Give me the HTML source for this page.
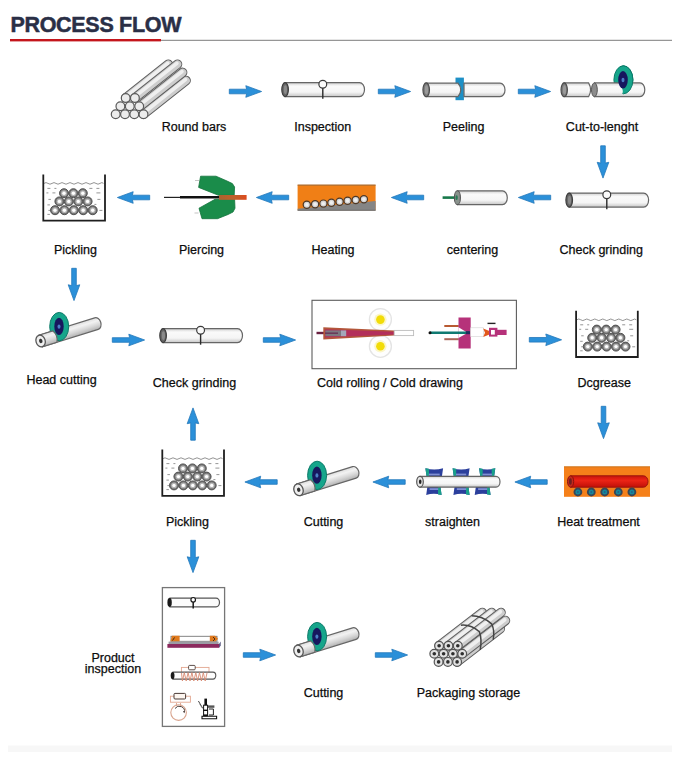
<!DOCTYPE html>
<html>
<head>
<meta charset="utf-8">
<title>Process Flow</title>
<style>
  html, body { margin: 0; padding: 0; background: #ffffff; }
  body { width: 680px; height: 759px; overflow: hidden; font-family: "Liberation Sans", sans-serif; }
  svg { display: block; }
  .lbl { font-family: "Liberation Sans", sans-serif; font-size: 12.5px; fill: #0c0c0c; text-anchor: middle; stroke: #0c0c0c; stroke-width: 0.25px; }
  .title { font-family: "Liberation Sans", sans-serif; font-size: 21.5px; font-weight: bold; fill: #2a2f46; stroke: #2a2f46; stroke-width: 0.5px; letter-spacing: -0.3px; }
</style>
</head>
<body>
<svg width="680" height="759" viewBox="0 0 680 759">
  <defs>
    <!-- tube body gradient -->
    <linearGradient id="gT" x1="0" y1="0" x2="0" y2="1">
      <stop offset="0" stop-color="#cfcfcf"/>
      <stop offset="0.25" stop-color="#fafafa"/>
      <stop offset="0.68" stop-color="#f5f5f5"/>
      <stop offset="1" stop-color="#c6c6c6"/>
    </linearGradient>
    <linearGradient id="gC" x1="0" y1="0" x2="0" y2="1">
      <stop offset="0" stop-color="#dedede"/>
      <stop offset="0.3" stop-color="#f2f2f2"/>
      <stop offset="0.65" stop-color="#d6d6d6"/>
      <stop offset="1" stop-color="#b2b2b2"/>
    </linearGradient>
    <linearGradient id="gRed" x1="0" y1="0" x2="0" y2="1">
      <stop offset="0" stop-color="#c8140c"/>
      <stop offset="0.4" stop-color="#ec2416"/>
      <stop offset="1" stop-color="#c01008"/>
    </linearGradient>
    <linearGradient id="gBrown" x1="0" y1="0" x2="1" y2="0">
      <stop offset="0" stop-color="#a8632e"/>
      <stop offset="0.55" stop-color="#c0602a"/>
      <stop offset="1" stop-color="#de4a1e"/>
    </linearGradient>

    <!-- blue arrow pointing right, origin = tail centre, length 33 -->
    <path id="arr" d="M0.3,-2.3 L17.6,-2.3 L16.8,-5.8 L32.6,0 L16.8,5.8 L17.6,2.3 L0.3,2.3 Z" fill="#2b90d9" stroke="#2277ba" stroke-width="0.8" stroke-linejoin="round"/>

    <!-- horizontal tube, origin = left end / centre line, length 83, height 14 -->
    <g id="tube">
      <path d="M3.5,-7 H78 A5,7 0 0 1 78,7 H3.5 Z" fill="url(#gT)" stroke="#666" stroke-width="1.2"/>
      <ellipse cx="3.6" cy="0" rx="3.3" ry="7" fill="#666666" stroke="#3e3e3e" stroke-width="1.2"/>
      <ellipse cx="3.9" cy="0" rx="1.6" ry="4.4" fill="#8a8a8a"/>
    </g>
    <!-- inspection probe: circle + stem, origin = circle centre -->
    <g id="probe">
      <line x1="0" y1="3.5" x2="0" y2="14.5" stroke="#2a2a2a" stroke-width="1.4"/>
      <circle cx="0" cy="0" r="3.9" fill="#fafafa" stroke="#3a3a3a" stroke-width="1.2"/>
    </g>

    <!-- tank with bars, origin = top-left -->
    <g id="tank">
      <path d="M1.6,9 q2,-1.6 4,0 t4,0 t4,0 t4,0 t4,0 t4,0 t4,0 t4,0 t4,0 t4,0 t4,0 t4,0 t4,0 t4,0 t3.5,0" fill="none" stroke="#777" stroke-width="0.8"/>
      <g stroke="#8a8a8a" stroke-width="0.9">
        <path d="M5,14h3 M12,14h2 M4,18.5h2 M10,18.5h3 M6,25h2.5 M5,30.5h2.5 M6,36h2 M5,40h2.5 M47,14h3 M54,14h3 M54,18.5h4 M55,25h3 M57,36h3 M52,30h2"/>
      </g>
      <g id="ring">
      </g>
      <g fill="#757575" stroke="#484848" stroke-width="0.9"><circle cx="21.6" cy="18.8" r="4.5"/><circle cx="31" cy="18.8" r="4.5"/><circle cx="40.4" cy="18.8" r="4.5"/><circle cx="17" cy="27" r="4.5"/><circle cx="26.4" cy="27" r="4.5"/><circle cx="35.9" cy="27" r="4.5"/><circle cx="45.2" cy="27" r="4.5"/><circle cx="12.6" cy="35.8" r="4.5"/><circle cx="22" cy="35.8" r="4.5"/><circle cx="31.4" cy="35.8" r="4.5"/><circle cx="40.8" cy="35.8" r="4.5"/><circle cx="50.3" cy="35.8" r="4.5"/></g>
      <g fill="#b4b4b4"><circle cx="21.6" cy="18.8" r="2.9"/><circle cx="31" cy="18.8" r="2.9"/><circle cx="40.4" cy="18.8" r="2.9"/><circle cx="17" cy="27" r="2.9"/><circle cx="26.4" cy="27" r="2.9"/><circle cx="35.9" cy="27" r="2.9"/><circle cx="45.2" cy="27" r="2.9"/><circle cx="12.6" cy="35.8" r="2.9"/><circle cx="22" cy="35.8" r="2.9"/><circle cx="31.4" cy="35.8" r="2.9"/><circle cx="40.8" cy="35.8" r="2.9"/><circle cx="50.3" cy="35.8" r="2.9"/></g>
      <g fill="#ffffff"><circle cx="21.6" cy="18.8" r="1.7"/><circle cx="31" cy="18.8" r="1.7"/><circle cx="40.4" cy="18.8" r="1.7"/><circle cx="17" cy="27" r="1.7"/><circle cx="26.4" cy="27" r="1.7"/><circle cx="35.9" cy="27" r="1.7"/><circle cx="45.2" cy="27" r="1.7"/><circle cx="12.6" cy="35.8" r="1.7"/><circle cx="22" cy="35.8" r="1.7"/><circle cx="31.4" cy="35.8" r="1.7"/><circle cx="40.8" cy="35.8" r="1.7"/><circle cx="50.3" cy="35.8" r="1.7"/></g>
      <path d="M0.9,0 V46.2 H62.6 V0" fill="none" stroke="#1e1e1e" stroke-width="1.8" stroke-linejoin="miter"/>
    </g>

    <!-- angled tube with cutting disc, origin = near-end centre -->
    <g id="cut">
      <g transform="rotate(-17.3)">
        <path d="M0,-6 H58.5 A4.5,6 0 0 1 58.5,6 H0 Z" fill="url(#gC)" stroke="#666" stroke-width="1.2"/>
      </g>
      <ellipse cx="18.6" cy="-14.4" rx="9.5" ry="14.2" fill="#16a58b" stroke="#0c7a68" stroke-width="1"/>
      <ellipse cx="18.4" cy="-14.6" rx="4.7" ry="8.6" fill="#17175e"/>
      <ellipse cx="18.4" cy="-14.4" rx="1.5" ry="2.2" fill="#4b7fc4"/>
      <g transform="rotate(-17.3)">
        <path d="M0,-6 H14.6 Q18.4,0 15.2,6 H0 Z" fill="url(#gC)" stroke="#666" stroke-width="1.1"/>
        <ellipse cx="0" cy="0" rx="4.6" ry="6" fill="#efefef" stroke="#555" stroke-width="1.3"/>
        <ellipse cx="0.2" cy="0" rx="1.7" ry="2.2" fill="#333"/>
      </g>
    </g>
  </defs>

  <rect x="0" y="0" width="680" height="759" fill="#ffffff"/>
  <rect x="8" y="745.5" width="664" height="6.5" fill="#f7f7f7"/>

  <!-- ===== header ===== -->
  <text class="title" x="10.4" y="31.5">PROCESS FLOW</text>
  <rect x="161" y="39.8" width="511" height="1" fill="#7d7d7d"/>
  <rect x="10" y="39" width="151" height="2.4" fill="#c4161c"/>

  <!-- ===== arrows ===== -->
  <g id="arrows">
    <use href="#arr" transform="translate(229,91.5)"/>
    <use href="#arr" transform="translate(378,91.5)"/>
    <use href="#arr" transform="translate(518,91.5)"/>
    <use href="#arr" transform="translate(603,145.5) rotate(90)"/>

    <use href="#arr" transform="translate(551,197.5) rotate(180)"/>
    <use href="#arr" transform="translate(424,197.5) rotate(180)"/>
    <use href="#arr" transform="translate(289,197.5) rotate(180)"/>
    <use href="#arr" transform="translate(150,197.5) rotate(180)"/>
    <use href="#arr" transform="translate(74,268) rotate(90)"/>

    <use href="#arr" transform="translate(112,340)"/>
    <use href="#arr" transform="translate(263,340)"/>
    <use href="#arr" transform="translate(529,339.8)"/>
    <use href="#arr" transform="translate(603.5,406) rotate(90)"/>
    <use href="#arr" transform="translate(193,440.5) rotate(-90)"/>

    <use href="#arr" transform="translate(547.5,482) rotate(180)"/>
    <use href="#arr" transform="translate(405.5,482) rotate(180)"/>
    <use href="#arr" transform="translate(277.5,482) rotate(180)"/>
    <use href="#arr" transform="translate(193,540) rotate(90)"/>

    <use href="#arr" transform="translate(243,655)"/>
    <use href="#arr" transform="translate(375,655)"/>
  </g>

  <!-- ===== labels ===== -->
  <g id="labels">
    <text class="lbl" x="194" y="131.3">Round bars</text>
    <text class="lbl" x="322.7" y="131.3">Inspection</text>
    <text class="lbl" x="463.5" y="131.3">Peeling</text>
    <text class="lbl" x="602" y="131.3">Cut-to-lenght</text>

    <text class="lbl" x="75.5" y="253.7">Pickling</text>
    <text class="lbl" x="201.5" y="253.7">Piercing</text>
    <text class="lbl" x="333" y="253.7">Heating</text>
    <text class="lbl" x="472.5" y="253.7">centering</text>
    <text class="lbl" x="601.2" y="253.9">Check grinding</text>

    <text class="lbl" x="61.5" y="384">Head cutting</text>
    <text class="lbl" x="194.5" y="387.2">Check grinding</text>
    <text class="lbl" x="390" y="387.2">Cold rolling / Cold drawing</text>
    <text class="lbl" x="604.2" y="387.2">Dcgrease</text>

    <text class="lbl" x="187.5" y="526.3">Pickling</text>
    <text class="lbl" x="323.5" y="526.3">Cutting</text>
    <text class="lbl" x="452.5" y="526.3">straighten</text>
    <text class="lbl" x="598.5" y="526.3">Heat treatment</text>

    <text class="lbl" x="113" y="661.5">Product</text>
    <text class="lbl" x="113" y="673.3">inspection</text>
    <text class="lbl" x="323.5" y="697.3">Cutting</text>
    <text class="lbl" x="468.5" y="697.3">Packaging storage</text>
  </g>

  <!-- ===== ROW 1 ===== -->
  <g id="row1">
    <g id="roundbars">
      <line x1="125.7" y1="98" x2="168.3" y2="64.2" stroke="#5e5e5e" stroke-width="9.6" stroke-linecap="round"/><line x1="125.7" y1="98" x2="168.3" y2="64.2" stroke="#cdcdcd" stroke-width="7.6" stroke-linecap="round"/><line x1="125.10000000000001" y1="97.2" x2="167.7" y2="63.4" stroke="#efefef" stroke-width="3.6" stroke-linecap="round"/>
      <line x1="143.5" y1="114.3" x2="186.1" y2="80.5" stroke="#5e5e5e" stroke-width="9.6" stroke-linecap="round"/><line x1="143.5" y1="114.3" x2="186.1" y2="80.5" stroke="#cdcdcd" stroke-width="7.6" stroke-linecap="round"/><line x1="142.9" y1="113.5" x2="185.5" y2="79.7" stroke="#efefef" stroke-width="3.6" stroke-linecap="round"/>
      <line x1="140" y1="106.2" x2="182.6" y2="72.4" stroke="#5e5e5e" stroke-width="9.6" stroke-linecap="round"/><line x1="140" y1="106.2" x2="182.6" y2="72.4" stroke="#cdcdcd" stroke-width="7.6" stroke-linecap="round"/><line x1="139.4" y1="105.4" x2="182.0" y2="71.6" stroke="#efefef" stroke-width="3.6" stroke-linecap="round"/>
      <line x1="134.9" y1="98" x2="177.5" y2="64.2" stroke="#5e5e5e" stroke-width="9.6" stroke-linecap="round"/><line x1="134.9" y1="98" x2="177.5" y2="64.2" stroke="#cdcdcd" stroke-width="7.6" stroke-linecap="round"/><line x1="134.3" y1="97.2" x2="176.9" y2="63.4" stroke="#efefef" stroke-width="3.6" stroke-linecap="round"/>
      <g fill="#ececec" stroke="#5a5a5a" stroke-width="1.2"><circle cx="125.7" cy="98" r="4.4"/><circle cx="134.9" cy="98" r="4.4"/><circle cx="120.4" cy="106.2" r="4.4"/><circle cx="129.8" cy="106.2" r="4.4"/><circle cx="139.2" cy="106.2" r="4.4"/><circle cx="115.7" cy="114.3" r="4.4"/><circle cx="125" cy="114.3" r="4.4"/><circle cx="134.3" cy="114.3" r="4.4"/><circle cx="143.5" cy="114.3" r="4.4"/></g>
    </g>
    <!-- inspection -->
    <use href="#tube" transform="translate(281.5,89.6)"/>
    <use href="#probe" transform="translate(322.8,84.2)"/>
    <!-- peeling -->
    <rect x="455.5" y="77.6" width="8.4" height="22.6" fill="#1e90c6"/>
    <path d="M464,83.2 H500 A5,6.7 0 0 1 500,96.6 H464 Z" fill="url(#gT)" stroke="#666" stroke-width="1.2"/>
    <path d="M426,83.2 H458 Q463.5,89.9 458,96.6 H426 Z" fill="url(#gT)" stroke="#666" stroke-width="1.2"/>
    <ellipse cx="426.2" cy="89.8" rx="3.3" ry="6.9" fill="#7a7a7a" stroke="#4a4a4a" stroke-width="1.1"/>
    <ellipse cx="426.5" cy="89.8" rx="1.7" ry="4.6" fill="#9a9a9a"/>
    <!-- cut to length -->
    <g id="ctl">
      <clipPath id="ctlc"><path d="M619.6,60 H640 V100 H620.6 Q625.4,90 619.6,82.4 Z"/></clipPath>
      <ellipse cx="623.4" cy="79.8" rx="9.5" ry="14" fill="#16a58b" stroke="#0c7a68" stroke-width="1"/>
      <path d="M594.6,82.9 H640 A4.8,6.9 0 0 1 640,96.7 H594.6 Z" fill="url(#gT)" stroke="#666" stroke-width="1.2"/>
      <path d="M564,82.9 H588.6 Q592.6,89.8 588.6,96.7 H564 Z" fill="url(#gT)" stroke="#666" stroke-width="1.2"/>
      <ellipse cx="564.2" cy="89.8" rx="3.2" ry="6.9" fill="#7a7a7a" stroke="#4a4a4a" stroke-width="1.1"/>
      <ellipse cx="564.5" cy="89.8" rx="1.6" ry="4.6" fill="#9a9a9a"/>
      <ellipse cx="594.4" cy="89.8" rx="2.9" ry="6.9" fill="#8c8c8c" stroke="#555" stroke-width="1"/>
      <g clip-path="url(#ctlc)">
        <ellipse cx="623.4" cy="79.8" rx="9.5" ry="14" fill="#16a58b" stroke="#0c7a68" stroke-width="1"/>
      </g>
      <ellipse cx="623" cy="79.8" rx="4.8" ry="8.7" fill="#17175e"/>
      <ellipse cx="623" cy="80" rx="1.5" ry="2.2" fill="#4b7fc4"/>
    </g>
  </g>
  <!-- ===== ROW 2 ===== -->
  <g id="row2">
    <!-- pickling -->
    <use href="#tank" transform="translate(42.4,174.4)"/>
    <!-- piercing -->
    <g id="pierce">
      <path d="M200.6,176.2 L216,176.2 L227,181 L232.4,183.6 L234.6,187 L234.2,195.3 L218.5,195.3 L198.6,187.4 Z" fill="#1a8c4a" stroke="#14733c" stroke-width="0.8" stroke-linejoin="round"/>
      <path d="M199,208.2 L202,218.7 L217.5,218.7 L228,214.5 L233,212 L235,208.2 L234.6,199.3 L215,199.3 Z" fill="#1a8c4a" stroke="#14733c" stroke-width="0.8" stroke-linejoin="round"/>
      <path d="M195,180.5 h4 M194.5,213 h4" stroke="#aaa" stroke-width="0.7"/>
      <line x1="164" y1="197.4" x2="181" y2="197.4" stroke="#222" stroke-width="1.2"/>
      <line x1="180" y1="197.3" x2="220" y2="197.3" stroke="#111" stroke-width="2.6"/>
      <rect x="219" y="195" width="27.6" height="4.8" fill="url(#gBrown)"/>
    </g>
    <!-- heating -->
    <g id="heating">
      <rect x="297.6" y="184.8" width="78" height="25.4" fill="#f07f16"/>
      <rect x="297.6" y="184.6" width="78" height="1" fill="#9a6a3a"/>
      <path d="M297.6,210.4 L297.6,208.8 L375.6,201 L375.6,210.4 Z" fill="#858585"/>
      <rect x="297.6" y="209.8" width="78" height="0.9" fill="#666"/>
      <g fill="#d6d6d6" stroke="#4e3826" stroke-width="1.2"><circle cx="306.8" cy="204.8" r="3.6"/><circle cx="315.1" cy="204.3" r="3.6"/><circle cx="323.4" cy="203.6" r="3.6"/><circle cx="331.4" cy="202.7" r="3.6"/><circle cx="339.6" cy="201.7" r="3.6"/><circle cx="347.6" cy="200.8" r="3.6"/><circle cx="355.7" cy="200" r="3.6"/><circle cx="363.9" cy="199.3" r="3.6"/></g><g fill="#efefef"><circle cx="306.8" cy="204.8" r="1.7"/><circle cx="315.1" cy="204.3" r="1.7"/><circle cx="323.4" cy="203.6" r="1.7"/><circle cx="331.4" cy="202.7" r="1.7"/><circle cx="339.6" cy="201.7" r="1.7"/><circle cx="347.6" cy="200.8" r="1.7"/><circle cx="355.7" cy="200" r="1.7"/><circle cx="363.9" cy="199.3" r="1.7"/></g>
    </g>
    <!-- centering -->
    <g id="centering">
      <line x1="442.6" y1="197.6" x2="457" y2="197.6" stroke="#17784a" stroke-width="2.6"/>
      <path d="M457.5,190.8 H502.5 A4.8,6.9 0 0 1 502.5,204.6 H457.5 Z" fill="url(#gT)" stroke="#666" stroke-width="1.2"/>
      <ellipse cx="457.4" cy="197.7" rx="3" ry="6.9" fill="#8a938d" stroke="#555" stroke-width="1.1"/>
      <ellipse cx="456.6" cy="197.7" rx="1.2" ry="2.4" fill="#2a7a55"/>
    </g>
    <!-- check grinding -->
    <use href="#tube" transform="translate(565.6,200.1)"/>
    <use href="#probe" transform="translate(606.8,194.8)"/>
  </g>
  <!-- ===== ROW 3 ===== -->
  <g id="row3">
    <!-- head cutting -->
    <use href="#cut" transform="translate(40.6,341)"/>
    <!-- check grinding -->
    <use href="#tube" transform="translate(159.5,335.6)"/>
    <use href="#probe" transform="translate(200.6,330.2)"/>
    <!-- cold rolling / cold drawing box -->
    <rect x="312" y="300.3" width="204.4" height="68.4" fill="#ffffff" stroke="#5c5c5c" stroke-width="1.1"/>
    <g id="coldroll">
      <circle cx="380.4" cy="319.6" r="11" fill="#fefefe" stroke="#e4e4e4" stroke-width="1.3"/>
      <circle cx="380.4" cy="346.3" r="11" fill="#fefefe" stroke="#e4e4e4" stroke-width="1.3"/>
      <circle cx="380.4" cy="319.6" r="6.2" fill="#fbf6c8"/>
      <circle cx="380.4" cy="346.3" r="6.2" fill="#fbf6c8"/>
      <circle cx="380.4" cy="319.6" r="4.3" fill="#f2dc08"/>
      <circle cx="380.4" cy="346.3" r="4.3" fill="#f2dc08"/>
      <line x1="316.5" y1="333" x2="326" y2="333" stroke="#6a2242" stroke-width="2.4"/>
      <path d="M323.3,327.2 L394.2,330.6 L394.2,335.5 L323.3,339.6 Z" fill="#b3563a"/>
      <path d="M325,329.3 L394.2,331.7 L394.2,334.4 L325,337.6 Z" fill="#b32f5b"/>
      <rect x="325.4" y="330.4" width="16" height="5.8" fill="#7c7780"/><line x1="325" y1="333.2" x2="338" y2="333.2" stroke="#6a3a5a" stroke-width="1.6"/>
      <rect x="341" y="330.4" width="5.2" height="5.8" fill="#a4a7ba"/>
      <rect x="394.2" y="330.4" width="19.4" height="5.2" fill="#ffffff" stroke="#bdbdbd" stroke-width="0.9"/>
    </g>
    <g id="colddraw">
      <rect x="444.3" y="325" width="14.5" height="2" fill="#b85a32"/>
      <rect x="444.3" y="338.2" width="14.5" height="2" fill="#a86458"/>
      <rect x="458.5" y="317.5" width="12.2" height="31" fill="#b6327a"/>
      <path d="M458.5,327.2 L465.5,331.4 L465.5,334 L458.5,338 Z" fill="#ffffff"/>
      <rect x="470.7" y="327.8" width="12.6" height="8.8" fill="#ffffff" stroke="#d2d2d2" stroke-width="0.6"/>
      <line x1="430" y1="332.7" x2="469" y2="332.7" stroke="#0f7a72" stroke-width="2.5"/>
      <circle cx="430" cy="332.7" r="1.5" fill="#111"/>
      <rect x="466" y="331.2" width="4" height="3" fill="#25305e"/>
      <path d="M483.2,328.6 L489.4,331 L489.4,334.6 L483.2,337 L485,332.8 Z" fill="#e2581c"/>
      <rect x="489" y="327.8" width="8.4" height="8.8" fill="#b6327a"/>
      <rect x="491" y="330" width="3.8" height="4.6" fill="#ffffff"/>
      <rect x="497" y="329.8" width="9.6" height="5.2" fill="#b6327a"/>
      <path d="M487.5,323.4 H495.5" stroke="#222" stroke-width="1.4"/>
    </g>
    <!-- degrease -->
    <use href="#tank" transform="translate(575.2,310.8)"/>
  </g>
  <!-- ===== ROW 4 ===== -->
  <g id="row4">
    <!-- pickling -->
    <use href="#tank" transform="translate(161.4,449.6)"/>
    <!-- cutting -->
    <use href="#cut" transform="translate(298.5,489.8)"/>
    <!-- straighten -->
    <g id="straighten">
      <path d="M425.4,468.2 Q434.25,470.8 443.1,468.2 L441.90000000000003,476.6 L426.59999999999997,476.6 Z" fill="#2b3f9c"/><path d="M425.4,468.2 L429.0,468.8 L429.0,476.6 L426.59999999999997,476.6 Z" fill="#18a08a"/><path d="M452.6,468.2 Q461.1,470.8 469.6,468.2 L468.40000000000003,476.6 L453.8,476.6 Z" fill="#2b3f9c"/><path d="M452.6,468.2 L456.20000000000005,468.8 L456.20000000000005,476.6 L453.8,476.6 Z" fill="#18a08a"/><path d="M479.1,468.2 Q487.20000000000005,470.8 495.3,468.2 L494.1,476.6 L480.3,476.6 Z" fill="#2b3f9c"/><path d="M479.1,468.2 L482.70000000000005,468.8 L482.70000000000005,476.6 L480.3,476.6 Z" fill="#18a08a"/><path d="M495.3,468.2 L491.7,468.8 L491.7,476.6 L494.1,476.6 Z" fill="#18a08a"/><path d="M427.4,486.6 L440.40000000000003,486.6 L441.6,495 Q433.9,492.4 426.2,495 Z" fill="#2b3f9c"/><path d="M440.40000000000003,486.6 L438.0,486.6 L438.0,494.4 L441.6,495 Z" fill="#18a08a"/><path d="M454.59999999999997,486.6 L468.40000000000003,486.6 L469.6,495 Q461.5,492.4 453.4,495 Z" fill="#2b3f9c"/><path d="M468.40000000000003,486.6 L466.0,486.6 L466.0,494.4 L469.6,495 Z" fill="#18a08a"/><path d="M475.9,486.6 L489.40000000000003,486.6 L490.6,495 Q482.65,492.4 474.7,495 Z" fill="#2b3f9c"/><path d="M489.40000000000003,486.6 L487.0,486.6 L487.0,494.4 L490.6,495 Z" fill="#18a08a"/>
      <rect x="428.79999999999995" y="473.6" width="10.9" height="1.8" fill="#7f8fd2"/><rect x="456.0" y="473.6" width="10.2" height="1.8" fill="#7f8fd2"/><rect x="482.5" y="473.6" width="9.4" height="1.8" fill="#7f8fd2"/><rect x="429.59999999999997" y="488.2" width="8.6" height="1.8" fill="#7f8fd2"/><rect x="456.79999999999995" y="488.2" width="9.4" height="1.8" fill="#7f8fd2"/><rect x="478.09999999999997" y="488.2" width="9.1" height="1.8" fill="#7f8fd2"/>
      <path d="M420,476.3 H496 A4,5.4 0 0 1 496,487.1 H420 Z" fill="url(#gT)" stroke="#666" stroke-width="1.2"/>
      <ellipse cx="420" cy="481.7" rx="3.3" ry="5.4" fill="#e4e4e4" stroke="#555" stroke-width="1.2"/>
      <ellipse cx="420.2" cy="481.7" rx="1.3" ry="2.2" fill="#222"/>
    </g>
    <!-- heat treatment -->
    <g id="heattreat">
      <rect x="564" y="466.6" width="86" height="30.2" fill="#f5801a"/>
      <rect x="564" y="466.4" width="86" height="0.9" fill="#c8741e"/>
      <path d="M570.5,475.8 H643.5 A4.5,5.7 0 0 1 643.5,487.2 H570.5 Z" fill="url(#gRed)" stroke="#9a140c" stroke-width="1"/>
      <ellipse cx="570.6" cy="481.5" rx="3.1" ry="5.7" fill="#c22a1c" stroke="#8a120c" stroke-width="1"/>
      <ellipse cx="570.4" cy="481.5" rx="1.4" ry="3.2" fill="#6e2020"/>
      <circle cx="577.9" cy="492" r="4.4" fill="#3a4656"/><circle cx="577.9" cy="492" r="2.5" fill="#158a9c"/><circle cx="577.9" cy="492" r="0.9" fill="#2a5a8a"/><circle cx="591.3" cy="492" r="4.4" fill="#3a4656"/><circle cx="591.3" cy="492" r="2.5" fill="#158a9c"/><circle cx="591.3" cy="492" r="0.9" fill="#2a5a8a"/><circle cx="604.7" cy="492" r="4.4" fill="#3a4656"/><circle cx="604.7" cy="492" r="2.5" fill="#158a9c"/><circle cx="604.7" cy="492" r="0.9" fill="#2a5a8a"/><circle cx="618.3" cy="492" r="4.4" fill="#3a4656"/><circle cx="618.3" cy="492" r="2.5" fill="#158a9c"/><circle cx="618.3" cy="492" r="0.9" fill="#2a5a8a"/><circle cx="631.9" cy="492" r="4.4" fill="#3a4656"/><circle cx="631.9" cy="492" r="2.5" fill="#158a9c"/><circle cx="631.9" cy="492" r="0.9" fill="#2a5a8a"/>
    </g>
  </g>
  <!-- ===== ROW 5 ===== -->
  <g id="row5">
    <!-- product inspection box -->
    <rect x="162.4" y="587.6" width="62.2" height="138.8" fill="#ffffff" stroke="#767676" stroke-width="1.3"/>
    <g id="pi1">
      <path d="M170,598.2 H216 A3.5,4.3 0 0 1 216,606.8 H170 Z" fill="#fbfbfb" stroke="#555" stroke-width="1.2"/>
      <ellipse cx="169.6" cy="602.5" rx="2.2" ry="4.4" fill="#1a1a1a"/>
      <line x1="193.2" y1="601.6" x2="193.2" y2="608.4" stroke="#1a1a1a" stroke-width="1.5"/>
      <circle cx="193.2" cy="599.8" r="2.3" fill="#fff" stroke="#1a1a1a" stroke-width="1.2"/>
    </g>
    <g id="pi2">
      <rect x="171" y="636.3" width="46" height="5" fill="#ffffff" stroke="#777" stroke-width="0.9"/>
      <path d="M170.4,641.4 L172,635.8 H179.6 V641.4 Z" fill="#e07a1e"/>
      <path d="M209.8,635.8 H215 L218,638.8 L215.6,641.4 H209.8 Z" fill="#e07a1e"/>
      <path d="M172.5,640.5 l2,-3 M213,637 l2,2 l-2,2" stroke="#3a2410" stroke-width="0.9" fill="none"/>
      <rect x="168.6" y="641.6" width="50" height="2.6" fill="#9c9ca4"/>
      <rect x="167.4" y="644" width="51.8" height="3.8" fill="#8c2a5e"/>
      <path d="M219.2,644 l1.4,-2.4 v3.8 l-1.4,2.4 Z" fill="#3a3a6a"/>
    </g>
    <g id="pi3">
      <rect x="181.4" y="667.4" width="27.6" height="5" fill="none" stroke="#e2a690" stroke-width="0.9"/>
      <rect x="188.6" y="665.4" width="6.6" height="4.4" rx="1" fill="#fff" stroke="#4a3a34" stroke-width="0.9"/>
      <path d="M173,672.1 H213 A2.8,3.5 0 0 1 213,679.1 H173 Z" fill="#fdfdfd" stroke="#555" stroke-width="1.1"/>
      <ellipse cx="172.6" cy="675.6" rx="1.9" ry="3.6" fill="#1a1a1a"/>
      <path d="M181.5,673 L182.4,681 L184.3,672.6 L186.2,681 L188.1,672.6 L190.0,681 L191.9,672.6 L193.8,681 L195.8,672.6 L197.6,681 L199.5,672.6 L201.4,681 L203.3,672.6 L205.2,681 L207.1,672.6" fill="none" stroke="#d98a72" stroke-width="0.9"/>
    </g>
    <g id="pi4">
      <rect x="170.4" y="696.2" width="20" height="6" fill="#fff" stroke="#e2a690" stroke-width="0.9"/>
      <rect x="174" y="693.4" width="11.6" height="5.6" rx="1" fill="#fdf6f0" stroke="#4a3a34" stroke-width="1"/>
      <circle cx="178.6" cy="712.6" r="7.8" fill="#fff" stroke="#d9a48e" stroke-width="1.1"/>
      <path d="M176.5,703 v3 M180.5,703 v3" stroke="#d9a48e" stroke-width="0.9"/>
      <path d="M175,708.5 A5.2,5.2 0 0 1 184.4,712.5 l-1.4,-1.2" fill="none" stroke="#3a2e2a" stroke-width="0.9"/>
    </g>
    <g id="pi5">
      <rect x="204.4" y="698.6" width="2.6" height="7" fill="#111"/>
      <rect x="203.6" y="705.2" width="4" height="11" fill="#fff" stroke="#111" stroke-width="1"/>
      <path d="M198.4,701 l4.2,7" stroke="#333" stroke-width="0.9"/>
      <path d="M199.6,704 l3,4.6" stroke="#777" stroke-width="0.7"/>
      <rect x="208" y="705.4" width="6.4" height="2.4" fill="#555"/>
      <path d="M209,709 h4.4 v6 h-4.4" fill="none" stroke="#222" stroke-width="1"/>
      <rect x="203.4" y="709.6" width="4.4" height="1.4" fill="#111"/>
      <path d="M202,716.2 h14.6 v2.6 h-14.6 Z" fill="#fff" stroke="#111" stroke-width="1.1"/>
      <rect x="203.6" y="714.4" width="4" height="1.8" fill="#111"/>
    </g>
    <!-- cutting -->
    <use href="#cut" transform="translate(298.5,651)"/>
    <!-- packaging -->
    <g id="pack">
      <line x1="457.1" y1="661.9" x2="500.3" y2="628.7" stroke="#5e5e5e" stroke-width="9.6" stroke-linecap="round"/><line x1="457.1" y1="661.9" x2="500.3" y2="628.7" stroke="#cdcdcd" stroke-width="7.6" stroke-linecap="round"/><line x1="456.5" y1="661.1" x2="499.7" y2="627.9" stroke="#efefef" stroke-width="3.6" stroke-linecap="round"/>
      <line x1="439.1" y1="645.7" x2="482.3" y2="612.5" stroke="#5e5e5e" stroke-width="9.6" stroke-linecap="round"/><line x1="439.1" y1="645.7" x2="482.3" y2="612.5" stroke="#cdcdcd" stroke-width="7.6" stroke-linecap="round"/><line x1="438.5" y1="644.9000000000001" x2="481.7" y2="611.7" stroke="#efefef" stroke-width="3.6" stroke-linecap="round"/>
      <line x1="462.2" y1="653.8" x2="505.4" y2="620.6" stroke="#5e5e5e" stroke-width="9.6" stroke-linecap="round"/><line x1="462.2" y1="653.8" x2="505.4" y2="620.6" stroke="#cdcdcd" stroke-width="7.6" stroke-linecap="round"/><line x1="461.59999999999997" y1="653.0" x2="504.8" y2="619.8" stroke="#efefef" stroke-width="3.6" stroke-linecap="round"/>
      <line x1="448.4" y1="645.7" x2="491.6" y2="612.5" stroke="#5e5e5e" stroke-width="9.6" stroke-linecap="round"/><line x1="448.4" y1="645.7" x2="491.6" y2="612.5" stroke="#cdcdcd" stroke-width="7.6" stroke-linecap="round"/><line x1="447.79999999999995" y1="644.9000000000001" x2="491.0" y2="611.7" stroke="#efefef" stroke-width="3.6" stroke-linecap="round"/>
      <line x1="457.8" y1="645.7" x2="501.0" y2="612.5" stroke="#5e5e5e" stroke-width="9.6" stroke-linecap="round"/><line x1="457.8" y1="645.7" x2="501.0" y2="612.5" stroke="#cdcdcd" stroke-width="7.6" stroke-linecap="round"/><line x1="457.2" y1="644.9000000000001" x2="500.4" y2="611.7" stroke="#efefef" stroke-width="3.6" stroke-linecap="round"/>
      <path d="M461,625.2 Q471,624.2 479.4,631.8 Q482.2,640 480.2,649.8" fill="none" stroke="#444" stroke-width="1.5"/>
      <path d="M471.6,615.8 Q482,615.8 491.6,623.8 Q495,631 493.2,639.6" fill="none" stroke="#444" stroke-width="1.5"/>
      <g fill="#e2e2e2" stroke="#555" stroke-width="1.2"><circle cx="439.1" cy="645.7" r="4.4"/><circle cx="448.4" cy="645.7" r="4.4"/><circle cx="457.8" cy="645.7" r="4.4"/><circle cx="434.3" cy="653.8" r="4.4"/><circle cx="443.6" cy="653.8" r="4.4"/><circle cx="452.9" cy="653.8" r="4.4"/><circle cx="462.2" cy="653.8" r="4.4"/><circle cx="438.6" cy="661.9" r="4.4"/><circle cx="447.9" cy="661.9" r="4.4"/><circle cx="457.1" cy="661.9" r="4.4"/></g>
      <g fill="#2e2e2e"><circle cx="439.1" cy="645.7" r="1.8"/><circle cx="448.4" cy="645.7" r="1.8"/><circle cx="457.8" cy="645.7" r="1.8"/><circle cx="434.3" cy="653.8" r="1.8"/><circle cx="443.6" cy="653.8" r="1.8"/><circle cx="452.9" cy="653.8" r="1.8"/><circle cx="462.2" cy="653.8" r="1.8"/><circle cx="438.6" cy="661.9" r="1.8"/><circle cx="447.9" cy="661.9" r="1.8"/><circle cx="457.1" cy="661.9" r="1.8"/></g>
    </g>
  </g>
</svg>
</body>
</html>
